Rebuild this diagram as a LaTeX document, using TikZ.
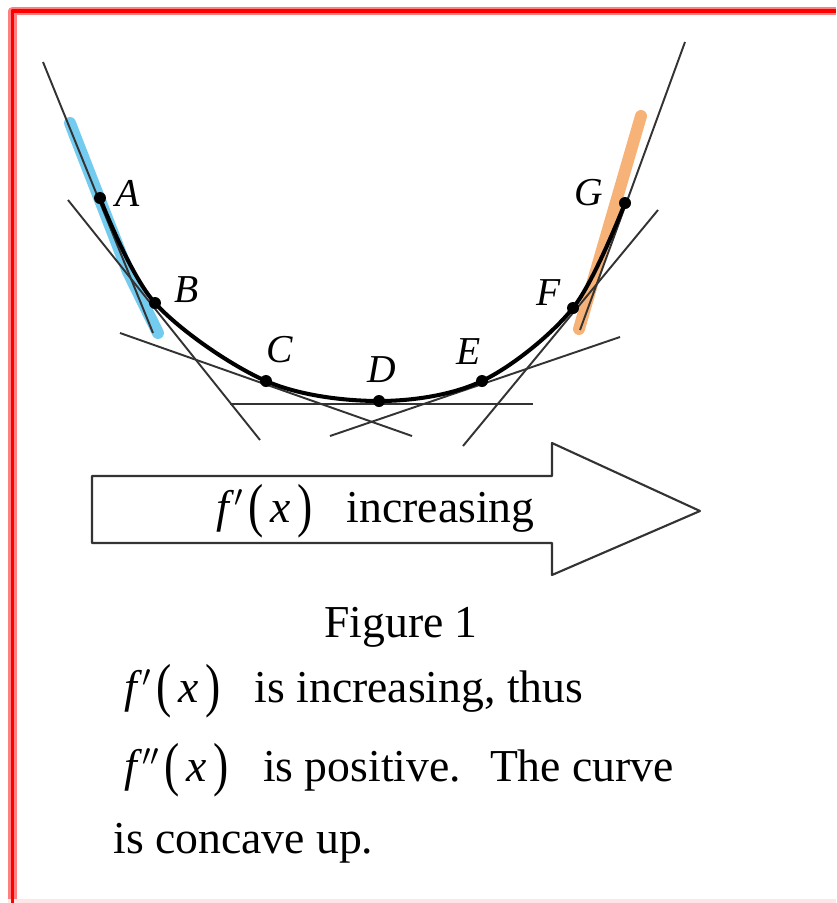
\documentclass[tikz,border=0pt]{standalone}
\usepackage{fontspec}
\setmainfont{Liberation Serif}
\usepackage{tikz}
\usetikzlibrary{arrows.meta, positioning, calc}

\definecolor{celeste}{RGB}{80,190,235}
\definecolor{naranja}{RGB}{245,160,85}
\newcommand{\paren}[1]{\raisebox{-0.08em}{\scalebox{1}[1.3]{#1}}}
\newcommand{\fx}[1]{\textit{f}$^{#1}$\hspace{0.1em}\paren{(}\hspace{0.15em}\textit{x}\hspace{0.15em}\paren{)}}

\begin{document}
\begin{tikzpicture}[
    x=0.02cm, y=-0.02cm,
    every path/.style={line join=round}
]
    \tikzset{
        punto/.style={circle, fill=black, inner sep=0pt, minimum size=0.24cm},
        tangente/.style={draw=black!80, line width=1.1pt},
        curva/.style={draw=black, line width=2.3pt},
        etiqueta/.style={font=\fontsize{22.5}{26}\selectfont\itshape, inner sep=0pt},
        texto/.style={font=\fontsize{26}{30}\selectfont, inner sep=0pt},
        marca/.style={line width=6.8pt, line cap=round, opacity=0.8}
    }
    \useasboundingbox (0,0) rectangle (836,903);

    % Marco
    \draw[red!50, line width=5pt] (12.5,903) -- (12.5,11) -- (836,11);
    \draw[red!10, line width=2pt] (8,901) -- (836,901);
    \draw[red, line width=2.2pt] (12.5,903) -- (12.5,11) -- (836,11);

    % Puntos
    \coordinate (A) at (100,198);
    \coordinate (B) at (155,303);
    \coordinate (C) at (266,381);
    \coordinate (D) at (379,401);
    \coordinate (E) at (482,381);
    \coordinate (F) at (573,308);
    \coordinate (G) at (625,203);

    % Marcas de color
    \draw[marca, celeste] (70,123) -- (128,272) -- (158,333);
    \draw[marca, naranja] (641,116) -- (579,329);

    % Tangentes
    \coordinate (a1) at (43,62);   \coordinate (a2) at (153,333);
    \coordinate (b1) at (68,200);  \coordinate (b2) at (260,440);
    \coordinate (c1) at (120,333); \coordinate (c2) at (412,436);
    \coordinate (d1) at (230,404); \coordinate (d2) at (533,404);
    \coordinate (e1) at (330,436); \coordinate (e2) at (620,337);
    \coordinate (f1) at (463,446); \coordinate (f2) at (658,210);
    \coordinate (g1) at (685,42);  \coordinate (g2) at (580,330);
    \foreach \p in {a,b,c,d,e,f,g}
        \draw[tangente] (\p1) -- (\p2);

    % Curva
    \draw[curva] plot[smooth, tension=0.55] coordinates
        {(A) (B) (C) (D) (E) (F) (G)};
    \foreach \p in {A,...,G}
        \node[punto] at (\p) {};

    % Etiquetas
    \node[etiqueta] (lA) at (128,193) {A};
    \node[etiqueta] (lB) at (187,290) {B};
    \node[etiqueta] (lC) at (280,350) {C};
    \node[etiqueta] (lD) at (382,370) {D};
    \node[etiqueta] (lE) at (469,352) {E};
    \node[etiqueta] (lF) at (549,293) {F};
    \node[etiqueta] (lG) at (589,193) {G};

    % Flecha
    \draw[draw=black!80, line width=1.2pt] (92,476) -- (552,476) -- (552,443)
        -- (700,511) -- (552,575) -- (552,543) -- (92,543) -- cycle;
    \node[texto, anchor=base west] (flecha) at (216,522) {\fx{\prime}\hspace{0.5em} increasing};

    % Texto
    \node[texto, anchor=base] (fig) at (401,637) {Figure 1};
    \node[texto, anchor=base west] (l1) at (124,702) {\fx{\prime}\hspace{0.5em} is increasing, thus};
    \node[texto, anchor=base west] (l2) at (124,781) {\fx{\prime\prime}\hspace{0.5em} is positive.\hspace{0.3em} The curve};
    \node[texto, anchor=base west] (l3) at (113,853) {is concave up.};
\end{tikzpicture}
\end{document}
